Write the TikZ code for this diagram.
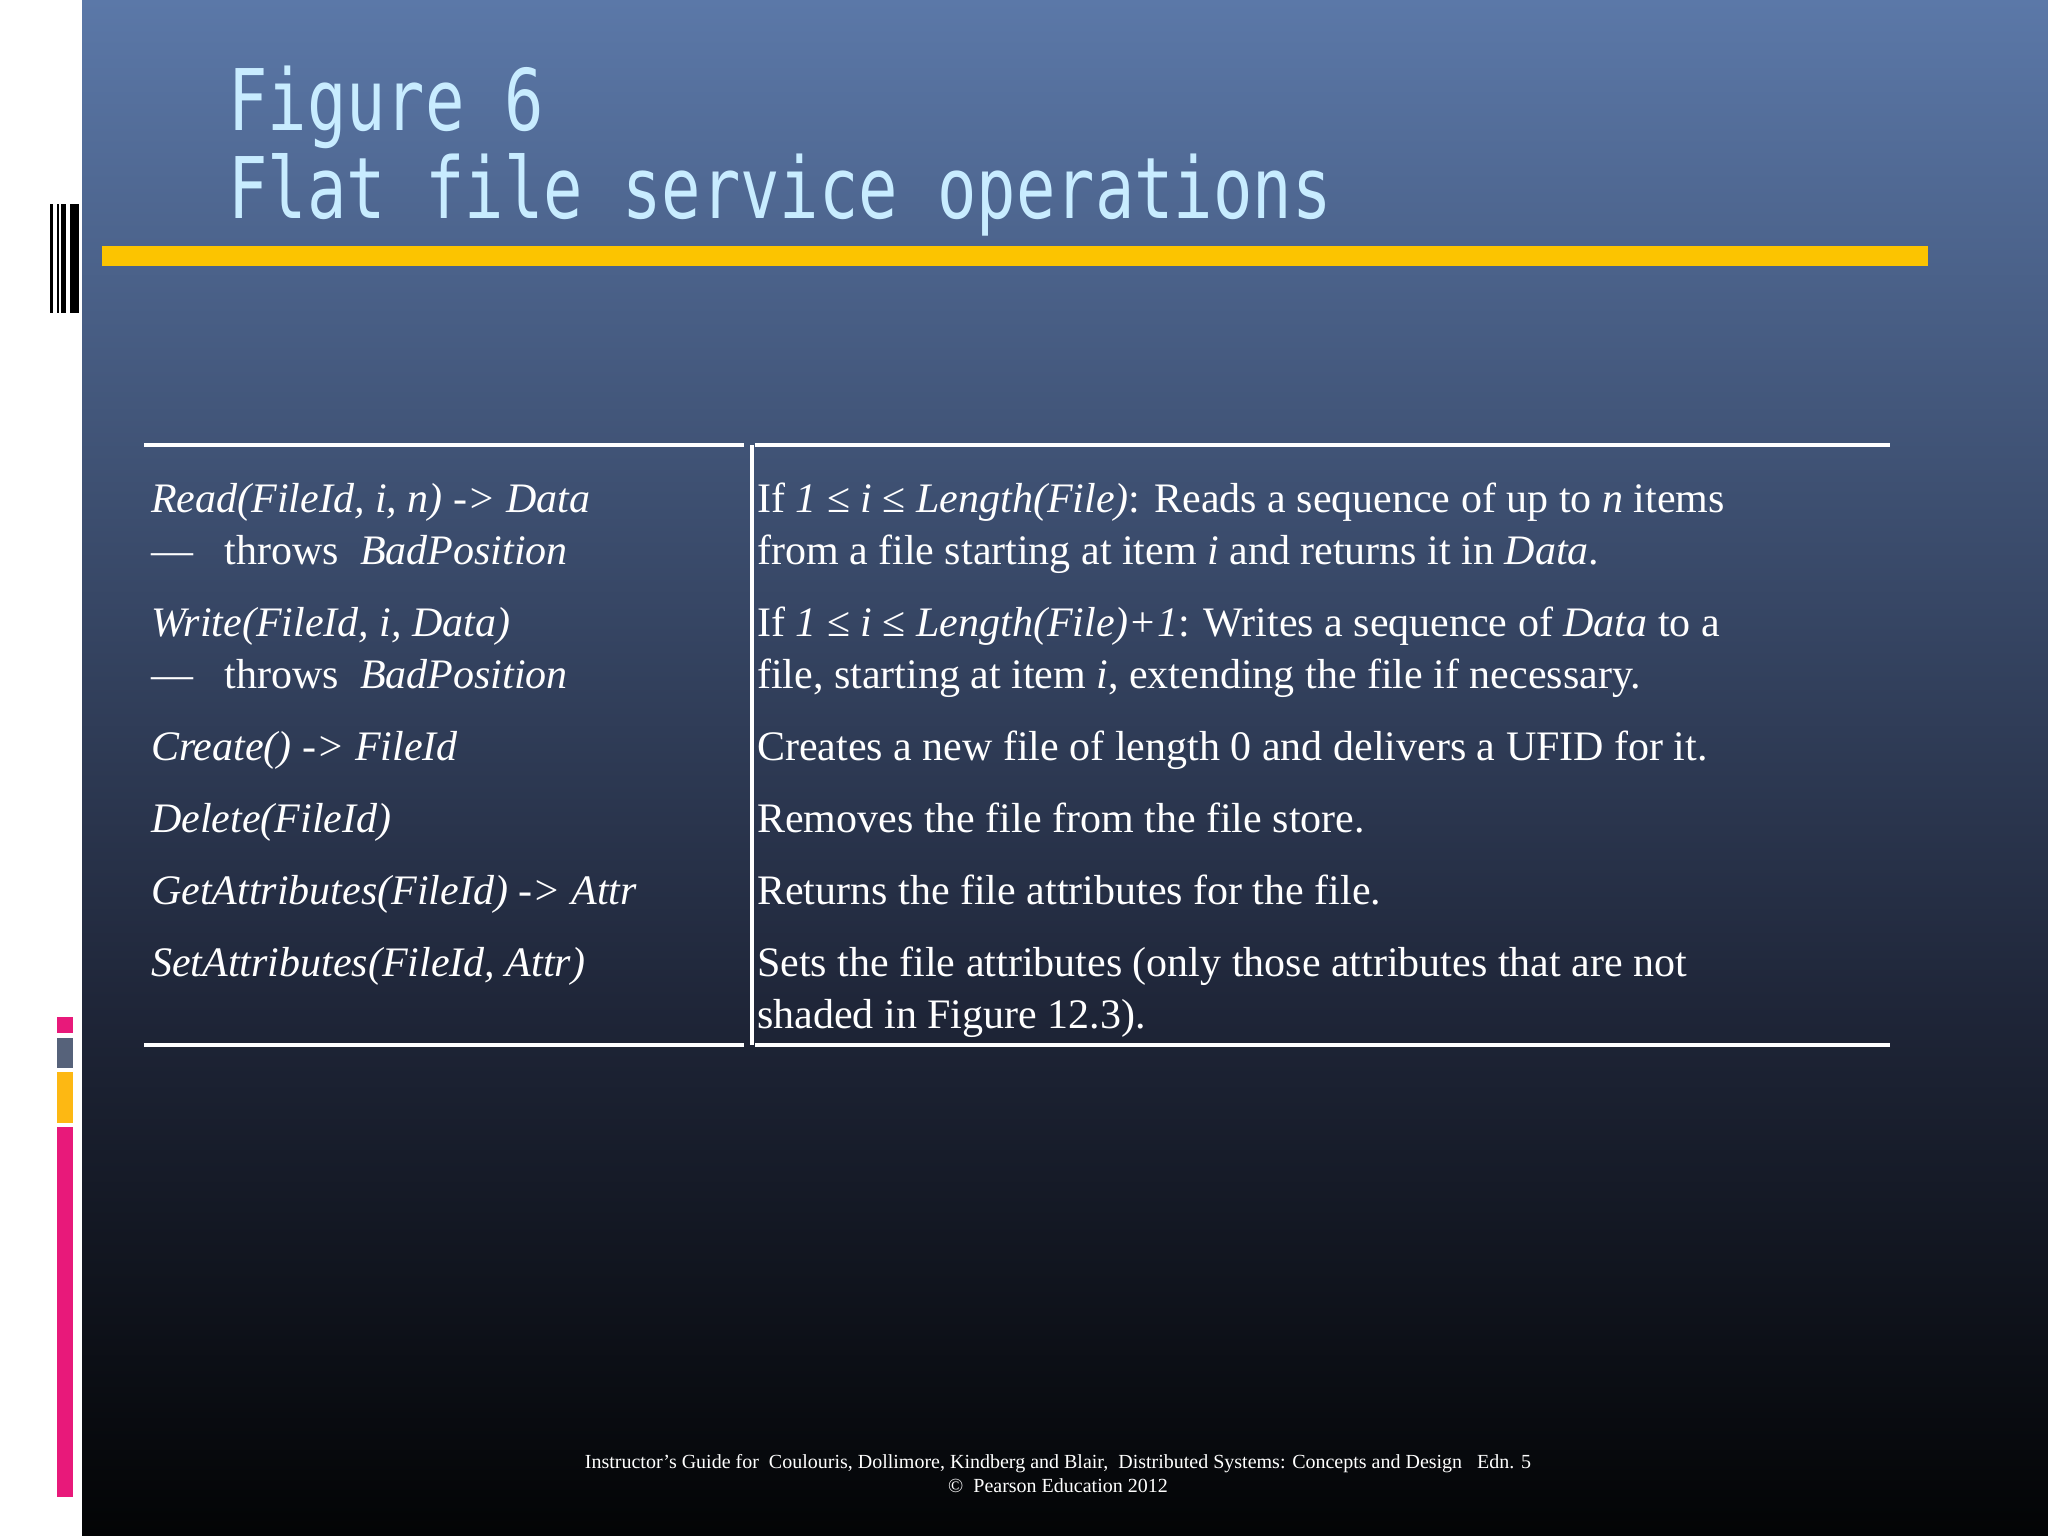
\documentclass[tikz,border=0pt]{standalone}
\usepackage{fontspec}
\setmainfont{Liberation Serif}
\newfontfamily\titlefont[FakeStretch=0.77]{DejaVu Sans Mono}
\definecolor{bgtop}{HTML}{5B78A8}
\definecolor{bgmid}{HTML}{1F2639}
\definecolor{bgbot}{HTML}{030405}
\definecolor{titlec}{HTML}{C8ECFF}
\definecolor{goldbar}{HTML}{FCC400}
\definecolor{pinkc}{HTML}{E8197A}
\definecolor{grayc}{HTML}{56627A}
\definecolor{orc}{HTML}{FDB813}
\tikzset{cell/.style={anchor=base west,inner sep=0pt,font=\fontsize{42}{52}\selectfont,text=white},
rule/.style={draw=white,line width=4pt},
foot/.style={anchor=base,inner sep=0pt,text=white,font=\fontsize{20}{23}\selectfont}}
\begin{document}
\begin{tikzpicture}[x=1pt,y=-1pt]
\useasboundingbox (0,0) rectangle (2048,1536);
\fill[white] (0,0) rectangle (2048,1536);
\shade[top color=bgtop,bottom color=bgmid] (82,0) rectangle (2048,1000);
\shade[top color=bgmid,bottom color=bgbot] (82,1000) rectangle (2048,1536);
% barcode
\fill[black] (50,204) rectangle (53,313);
\fill[black] (56.5,204) rectangle (58.5,313);
\fill[black] (61,204) rectangle (66,313);
\fill[black] (70,204) rectangle (79,313);
% left strips
\fill[pinkc] (57,1017) rectangle (73,1033);
\fill[grayc] (57,1038) rectangle (73,1068);
\fill[orc] (57,1072) rectangle (73,1123);
\fill[pinkc] (57,1127) rectangle (73,1497);
% title
\node[anchor=base west,inner sep=0pt,text=titlec,font=\titlefont\fontsize{85}{100}\selectfont] (title1) at (228,131) {Figure 6};
\node[anchor=base west,inner sep=0pt,text=titlec,font=\titlefont\fontsize{85}{100}\selectfont] (title2) at (228,218) {Flat file service operations};
\fill[goldbar] (102,246) rectangle (1928,266);
% table rules
\draw[rule] (144,445) -- (744,445);
\draw[rule] (755,445) -- (1890,445);
\draw[rule] (144,1045) -- (744,1045);
\draw[rule] (755,1045) -- (1890,1045);
\draw[rule] (752,445) -- (752,1045);
% left column
\node[cell] (l1) at (151,512) {\textit{Read(FileId, i, n) -> Data}};
\node[cell] (l1b) at (151,564) {— \ \ throws \ \textit{BadPosition}};
\node[cell] (l2) at (151,636) {\textit{Write(FileId, i, Data)}};
\node[cell] (l2b) at (151,688) {— \ \ throws \ \textit{BadPosition}};
\node[cell] (l3) at (151,760) {\textit{Create() -> FileId}};
\node[cell] (l4) at (151,832) {\textit{Delete(FileId)}};
\node[cell] (l5) at (151,904) {\textit{GetAttributes(FileId) -> Attr}};
\node[cell] (l6) at (151,976) {\textit{SetAttributes(FileId, Attr)}};
% right column
\node[cell] (r1) at (757,512) {If \textit{1} ≤ \textit{i} ≤ \textit{Length(File)}: Reads a sequence of up to \textit{n} items};
\node[cell] (r1b) at (757,564) {from a file starting at item \textit{i} and returns it in \textit{Data}.};
\node[cell] (r2) at (757,636) {If \textit{1} ≤ \textit{i} ≤ \textit{Length(File)+1}: Writes a sequence of \textit{Data} to a};
\node[cell] (r2b) at (757,688) {file, starting at item \textit{i}, extending the file if necessary.};
\node[cell] (r3) at (757,760) {Creates a new file of length 0 and delivers a UFID for it.};
\node[cell] (r4) at (757,832) {Removes the file from the file store.};
\node[cell] (r5) at (757,904) {Returns the file attributes for the file.};
\node[cell] (r6) at (757,976) {Sets the file attributes (only those attributes that are not};
\node[cell] (r6b) at (757,1028) {shaded in Figure 12.3).};
% footer
\node[foot] (foot1) at (1058,1468) {Instructor’s Guide for \ Coulouris, Dollimore, Kindberg and Blair, \ Distributed Systems: Concepts and Design \ \ Edn. 5};
\node[foot] (foot2) at (1058,1492) {©\ \ Pearson Education 2012};
\end{tikzpicture}
\end{document}
